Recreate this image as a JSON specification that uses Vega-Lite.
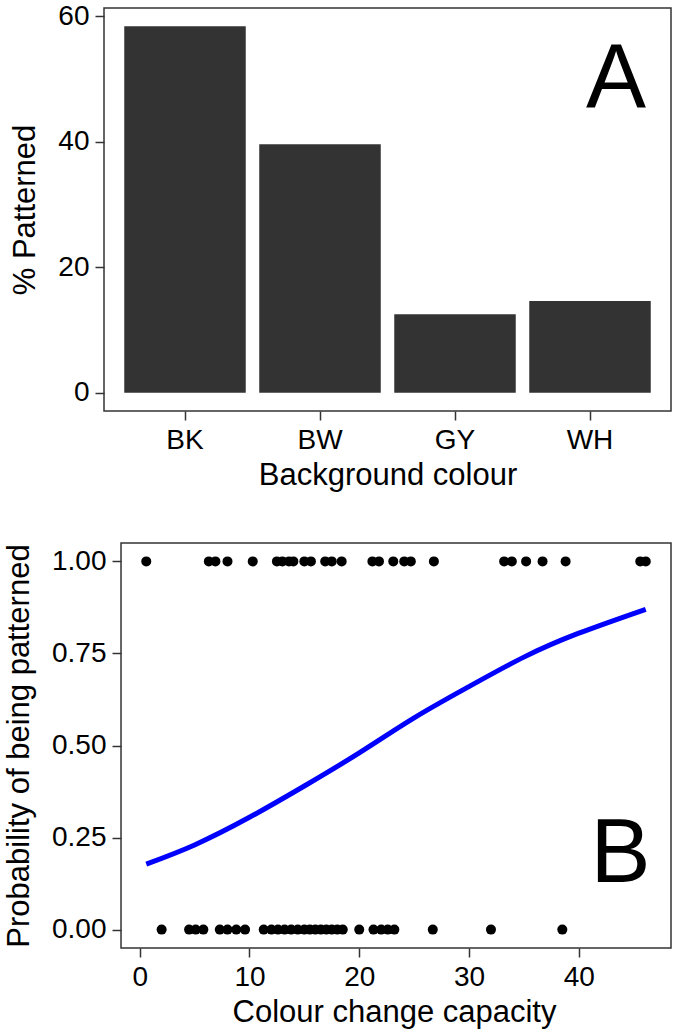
{
  "$schema": "https://vega.github.io/schema/vega-lite/v6.json",
  "background": "white",
  "padding": {"left": 3, "top": 1, "right": 5, "bottom": 3},
  "config": {
    "font": "Liberation Sans",
    "view": {"stroke": "#333333", "strokeWidth": 1.5},
    "axis": {"grid": false, "domain": false, "tickColor": "#333333", "tickWidth": 1.5, "tickSize": 9, "labelFont": "Liberation Sans", "labelFontSize": 28, "labelColor": "#000000", "titleFont": "Liberation Sans", "titleFontSize": 31, "titleFontWeight": "normal", "titleColor": "#000000", "labelPadding": 6, "titlePadding": 6}
  },
  "spacing": 51,
  "vconcat": [
    {
      "width": 567,
      "height": 403,
      "layer": [
        {
          "data": {"values": [
            {"colour": "BK", "pct": 58.4},
            {"colour": "BW", "pct": 39.6},
            {"colour": "GY", "pct": 12.5},
            {"colour": "WH", "pct": 14.6}
          ]},
          "mark": {"type": "bar", "color": "#333333"},
          "encoding": {
            "x": {"field": "colour", "type": "nominal", "scale": {"paddingInner": 0.1, "paddingOuter": 0.15}, "axis": {"title": "Background colour", "labelAngle": 0}},
            "y": {"field": "pct", "type": "quantitative", "scale": {"domain": [-2.92, 61.3], "nice": false, "zero": false}, "axis": {"title": "% Patterned", "values": [0, 20, 40, 60], "titlePadding": 16}},
            "y2": {"datum": 0}
          }
        },
        {
          "data": {"values": [{"label": "A", "colour": "WH", "pos": 45.6}]},
          "mark": {"type": "text", "fontSize": 90, "font": "Liberation Sans", "color": "#000000", "align": "center", "baseline": "alphabetic", "dx": 26},
          "encoding": {
            "x": {"field": "colour", "type": "nominal"},
            "y": {"field": "pos", "type": "quantitative"},
            "text": {"field": "label"}
          }
        }
      ]
    },
    {
      "width": 567,
      "height": 405,
      "view": {"stroke": null},
      "layer": [
        {
          "data": {"values": [{"xa": -1.7, "xb": 48.4, "ya": -0.05, "yb": 1.05}]},
          "mark": {"type": "rect", "fill": null, "fillOpacity": 0, "stroke": "#333333", "strokeWidth": 1.5},
          "encoding": {
            "x": {"field": "xa", "type": "quantitative"},
            "x2": {"field": "xb"},
            "y": {"field": "ya", "type": "quantitative"},
            "y2": {"field": "yb"}
          }
        },
        {
          "data": {"values": [
            {"cc": 0.6, "p": 1}, {"cc": 6.3, "p": 1}, {"cc": 6.9, "p": 1}, {"cc": 8.0, "p": 1}, {"cc": 10.3, "p": 1},
            {"cc": 12.5, "p": 1}, {"cc": 13.0, "p": 1}, {"cc": 13.6, "p": 1}, {"cc": 14.0, "p": 1}, {"cc": 15.0, "p": 1},
            {"cc": 15.6, "p": 1}, {"cc": 16.9, "p": 1}, {"cc": 17.5, "p": 1}, {"cc": 18.4, "p": 1}, {"cc": 21.2, "p": 1},
            {"cc": 21.8, "p": 1}, {"cc": 23.1, "p": 1}, {"cc": 24.1, "p": 1}, {"cc": 24.7, "p": 1}, {"cc": 26.8, "p": 1},
            {"cc": 33.2, "p": 1}, {"cc": 33.9, "p": 1}, {"cc": 35.2, "p": 1}, {"cc": 36.7, "p": 1}, {"cc": 38.8, "p": 1},
            {"cc": 45.6, "p": 1}, {"cc": 46.1, "p": 1},
            {"cc": 2.0, "p": 0}, {"cc": 4.5, "p": 0}, {"cc": 5.1, "p": 0}, {"cc": 5.8, "p": 0}, {"cc": 7.3, "p": 0},
            {"cc": 8.0, "p": 0}, {"cc": 8.8, "p": 0}, {"cc": 9.6, "p": 0}, {"cc": 11.3, "p": 0}, {"cc": 12.0, "p": 0},
            {"cc": 12.6, "p": 0}, {"cc": 13.2, "p": 0}, {"cc": 13.8, "p": 0}, {"cc": 14.4, "p": 0}, {"cc": 15.0, "p": 0},
            {"cc": 15.5, "p": 0}, {"cc": 16.0, "p": 0}, {"cc": 16.5, "p": 0}, {"cc": 17.0, "p": 0}, {"cc": 17.5, "p": 0},
            {"cc": 18.0, "p": 0}, {"cc": 18.5, "p": 0}, {"cc": 20.0, "p": 0}, {"cc": 21.3, "p": 0}, {"cc": 22.0, "p": 0},
            {"cc": 22.6, "p": 0}, {"cc": 23.2, "p": 0}, {"cc": 26.7, "p": 0}, {"cc": 32.0, "p": 0}, {"cc": 38.5, "p": 0}
          ]},
          "mark": {"type": "circle", "size": 100, "color": "#000000", "opacity": 1},
          "encoding": {
            "x": {"field": "cc", "type": "quantitative", "scale": {"domain": [-3.25, 48.4], "nice": false, "zero": false}, "axis": {"title": "Colour change capacity", "values": [0, 10, 20, 30, 40], "titleX": 290}},
            "y": {"field": "p", "type": "quantitative", "scale": {"domain": [-0.05, 1.05], "nice": false, "zero": false}, "axis": {"title": "Probability of being patterned", "values": [0, 0.25, 0.5, 0.75, 1], "format": ".2f", "titlePadding": 16, "offset": -17}}
          }
        },
        {
          "data": {"values": [
            {"cc": 0.6, "fit": 0.178}, {"cc": 5, "fit": 0.23}, {"cc": 10, "fit": 0.305}, {"cc": 15, "fit": 0.39},
            {"cc": 20, "fit": 0.48}, {"cc": 25, "fit": 0.575}, {"cc": 30, "fit": 0.66}, {"cc": 35, "fit": 0.74},
            {"cc": 40, "fit": 0.805}, {"cc": 46.1, "fit": 0.87}
          ]},
          "mark": {"type": "line", "color": "#0000ff", "strokeWidth": 5, "interpolate": "natural"},
          "encoding": {
            "x": {"field": "cc", "type": "quantitative"},
            "y": {"field": "fit", "type": "quantitative"}
          }
        },
        {
          "data": {"values": [{"label": "B", "cc": 43.8, "pos": 0.13}]},
          "mark": {"type": "text", "fontSize": 90, "font": "Liberation Sans", "color": "#000000", "align": "center", "baseline": "alphabetic"},
          "encoding": {
            "x": {"field": "cc", "type": "quantitative"},
            "y": {"field": "pos", "type": "quantitative"},
            "text": {"field": "label"}
          }
        }
      ]
    }
  ]
}
